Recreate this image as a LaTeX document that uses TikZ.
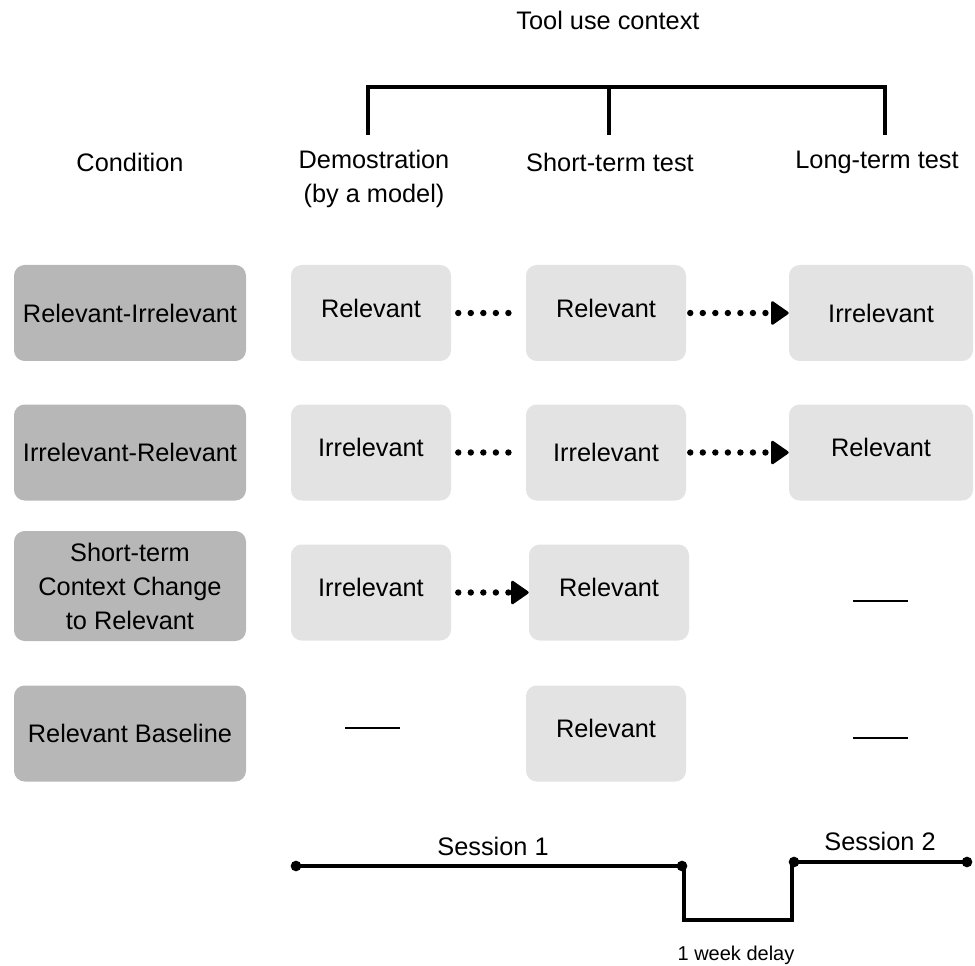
\documentclass[tikz,border=0pt]{standalone}
\usepackage{fontspec}
\setmainfont{Liberation Sans}
\usepackage{tikz}
\usetikzlibrary{arrows.meta,positioning,calc}
\definecolor{condgray}{RGB}{183,183,183}
\definecolor{cellgray}{RGB}{227,227,227}

\begin{document}
\begin{tikzpicture}[x=0.75pt, y=-0.75pt, font=\fontsize{19}{25.5}\selectfont]
    \tikzset{
        cond/.style={fill=condgray, rounded corners=8pt, minimum width=174pt, minimum height=72pt, align=center, inner sep=0pt},
        cell/.style={fill=cellgray, rounded corners=8pt, minimum width=120pt, minimum height=72pt, inner sep=0pt},
        wide/.style={cell, minimum width=138pt},
        lift/.style={text depth=7.5pt},
        dots/.style={line width=4.8pt, line cap=round, dash pattern=on 0pt off 9.4pt},
        dotarrow/.style={dots, -{Triangle[length=14pt, width=19pt, line width=2pt, round]}},
        blank/.style={line width=2pt},
        bar/.style={line width=2.4pt},
        stop/.style={circle, fill, inner sep=0pt, minimum size=8pt}
    }
    \useasboundingbox (0,0) rectangle (975,966);

    % header
    \node at (608,20) (tool) {Tool use context};
    \draw [bar] (368,135) -- (368,87) -- (885,87) -- (885,135);
    \draw [bar] (609,87) -- (609,135);
    \node at (130,162) (hcond) {Condition};
    \node at (374,179) [align=center] (hdemo) {Demostration\\(by a model)};
    \node at (610,162) (hshort) {Short-term test};
    \node at (877,162) (hlong) {Long-term test};

    % conditions
    \node at (130,313) [cond] (c1) {Relevant-Irrelevant};
    \node at (130,452.5) [cond] (c2) {Irrelevant-Relevant};
    \node at (130,586) [cond, minimum height=82.5pt] (c3) {Short-term\\Context Change\\to Relevant};
    \node at (130,733.5) [cond] (c4) {Relevant Baseline};

    % row 1
    \node at (371,313) [cell, lift] (r1a) {Relevant};
    \node at (606,313) [cell, lift] (r1b) {Relevant};
    \node at (881,313) [wide] (r1c) {Irrelevant};
        \draw [dots, shorten <=5.25pt, shorten >=10pt] (r1a) -- (r1b);
        \draw [dotarrow, shorten <=3pt] (r1b) -- (r1c);

    % row 2
    \node at (371,452.5) [cell, lift] (r2a) {Irrelevant};
    \node at (606,452.5) [cell] (r2b) {Irrelevant};
    \node at (881,452.5) [wide, lift] (r2c) {Relevant};
        \draw [dots, shorten <=5.25pt, shorten >=10pt] (r2a) -- (r2b);
        \draw [dotarrow, shorten <=3pt] (r2b) -- (r2c);

    % row 3
    \node at (371,592.5) [cell, lift] (r3a) {Irrelevant};
    \node at (609,592.5) [cell, lift] (r3b) {Relevant};
        \draw [dotarrow, shorten <=5.25pt] (r3a) -- (r3b);
        \draw [blank] (853,601) -- (908,601);

    % row 4
    \node at (606,733.5) [cell, lift] (r4b) {Relevant};
        \draw [blank] (345,728) -- (400,728);
        \draw [blank] (853,738) -- (908,738);

    % sessions
    \node at (296,866) [stop] (s1a) {};
    \node at (682,866) [stop] (s1b) {};
    \node at (794,862) [stop] (s2a) {};
    \node at (967,862) [stop] (s2b) {};
        \draw [bar] (s1a.center) -- (s1b.center) -- ++(2,0) -- ++(0,54) -- (792,920) -- (792,862) -- (s2a.center) -- (s2b.center);
    \node at (493,846) (sess1) {Session 1};
    \node at (880,841) (sess2) {Session 2};
    \node at (736,955) [font=\fontsize{15}{18}\selectfont] (delay) {1 week delay};
\end{tikzpicture}
\end{document}
